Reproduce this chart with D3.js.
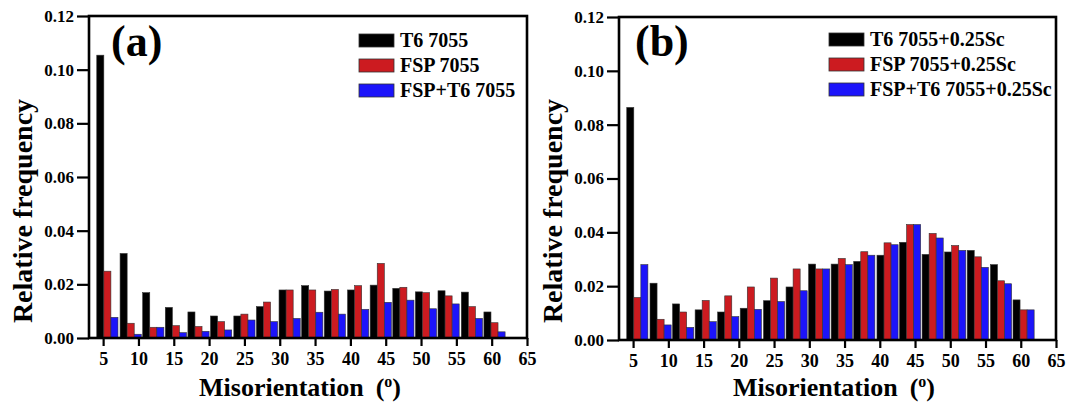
<!DOCTYPE html>
<html>
<head>
<meta charset="utf-8">
<script src="https://cdn.jsdelivr.net/npm/d3@7"></script>
<style>
body { margin: 0; background: #fff; }
text { font-family: "Liberation Serif", "Times New Roman", serif; font-weight: bold; fill: #000; }
</style>
</head>
<body>
<div id="chart"></div>
<script>
// bin centres (degrees)
const bins = [5.6, 8.9, 12.1, 15.3, 18.5, 21.7, 25.0, 28.2, 31.4, 34.6, 37.8, 41.1, 44.3, 47.5, 50.7, 53.9, 57.2, 60.4];

// panel (a)
const t6_7055     = [0.1054, 0.0315, 0.0169, 0.0114, 0.0097, 0.0082, 0.0082, 0.0117, 0.0179, 0.0195, 0.0175, 0.0179, 0.0197, 0.0185, 0.0172, 0.0176, 0.0171, 0.0097];
const fsp_7055    = [0.0249, 0.0055, 0.0040, 0.0046, 0.0043, 0.0061, 0.0089, 0.0134, 0.0179, 0.0179, 0.0181, 0.0195, 0.0278, 0.0189, 0.0169, 0.0157, 0.0117, 0.0057];
const fspt6_7055  = [0.0077, 0.0014, 0.0040, 0.0020, 0.0025, 0.0030, 0.0067, 0.0061, 0.0073, 0.0096, 0.0089, 0.0107, 0.0133, 0.0141, 0.0109, 0.0127, 0.0073, 0.0023];

// panel (b)
const t6_sc       = [0.0864, 0.0211, 0.0134, 0.0112, 0.0104, 0.0118, 0.0146, 0.0197, 0.0282, 0.0282, 0.0292, 0.0315, 0.0363, 0.0318, 0.0327, 0.0333, 0.0280, 0.0149];
const fsp_sc      = [0.0158, 0.0077, 0.0104, 0.0147, 0.0164, 0.0197, 0.0230, 0.0264, 0.0264, 0.0303, 0.0328, 0.0361, 0.0429, 0.0396, 0.0351, 0.0309, 0.0220, 0.0112];
const fspt6_sc    = [0.0280, 0.0056, 0.0047, 0.0068, 0.0087, 0.0114, 0.0143, 0.0183, 0.0264, 0.0280, 0.0315, 0.0354, 0.0429, 0.0379, 0.0333, 0.0270, 0.0209, 0.0112];

const namesA = ["T6 7055", "FSP 7055", "FSP+T6 7055"];
const namesB = ["T6 7055+0.25Sc", "FSP 7055+0.25Sc", "FSP+T6 7055+0.25Sc"];
const xTicks = [5, 10, 15, 20, 25, 30, 35, 40, 45, 50, 55, 60, 65];
const yTicks = [0, 0.02, 0.04, 0.06, 0.08, 0.10, 0.12];
const colors = ["#000000", "#cc1b20", "#1c14fa"];

const serif = "'Liberation Serif', 'Times New Roman', serif";
const svg = d3.select("#chart").append("svg").attr("width", 1069).attr("height", 409);

function panel(opt) {
    let x = d3.scaleLinear().domain([3, 65]).range([opt.left, opt.right]);
    let y = d3.scaleLinear().domain([0, 0.12]).range([opt.bottom, opt.top]);
    let g = svg.append("g");
    let bw = x(1) - x(0);

    opt.series.forEach(function(vals, s) {
        g.selectAll(null).data(vals).enter().append("rect")
            .attr("x", (d, i) => x(bins[i]) + (s - 1.5) * bw)
            .attr("y", d => y(d))
            .attr("width", bw)
            .attr("height", d => y(0) - y(d))
            .attr("fill", colors[s])
            .attr("stroke", "#333")
            .attr("stroke-width", 0.6);
    });

    // frame
    g.append("rect").attr("x", opt.left).attr("y", opt.top)
        .attr("width", opt.right - opt.left).attr("height", opt.bottom - opt.top)
        .attr("fill", "none").attr("stroke", "#000").attr("stroke-width", 2.6);

    let xa = g.append("g").attr("transform", "translate(0," + opt.bottom + ")")
        .call(d3.axisBottom(x).tickValues(xTicks).tickFormat(d3.format("d")).tickSize(8).tickSizeOuter(0).tickPadding(6))
        .attr("font-family", serif).attr("font-size", 18);
    xa.select(".domain").remove();
    xa.selectAll(".tick line").attr("stroke-width", 2.2);

    let ya = g.append("g").attr("transform", "translate(" + opt.left + ",0)")
        .call(d3.axisLeft(y).tickValues(yTicks).tickFormat(d3.format(".2f")).tickSize(12).tickSizeOuter(0).tickPadding(3))
        .attr("font-family", serif).attr("font-size", 17);
    ya.select(".domain").remove();
    ya.selectAll(".tick line").attr("stroke-width", 2.2);

    // panel letter
    g.append("text").attr("x", opt.letterX).attr("y", 56).attr("font-size", 44).text(opt.letter);

    // legend
    opt.names.forEach(function(n, i) {
        let ly = opt.legY + i * 25;
        g.append("rect").attr("x", opt.legX).attr("y", ly - 13).attr("width", 35).attr("height", 13)
            .attr("fill", colors[i]).attr("stroke", "#333").attr("stroke-width", 0.8);
        g.append("text").attr("x", opt.legX + 41).attr("y", ly).attr("font-size", 20).text(n);
    });

    // axis titles
    let t = g.append("text").attr("x", opt.titleX).attr("y", 396).attr("font-size", 26);
    t.append("tspan").text("Misorientation");
    t.append("tspan").attr("dx", 12).text("(");
    t.append("tspan").attr("font-size", 16).attr("dy", -9).text("o");
    t.append("tspan").attr("dy", 9).text(")");

    g.append("text").attr("transform", "translate(" + opt.ylabX + ",211) rotate(-90)")
        .attr("text-anchor", "middle").attr("font-size", 28).text("Relative frequency");
}

panel({left: 89, right: 527, top: 16, bottom: 338, series: [t6_7055, fsp_7055, fspt6_7055],
       names: namesA, letter: "(a)", letterX: 111, legX: 359, legY: 47, titleX: 199, ylabX: 32});
panel({left: 619, right: 1056, top: 17, bottom: 340, series: [t6_sc, fsp_sc, fspt6_sc],
       names: namesB, letter: "(b)", letterX: 635, legX: 829, legY: 46, titleX: 733, ylabX: 562});
</script>
</body>
</html>
